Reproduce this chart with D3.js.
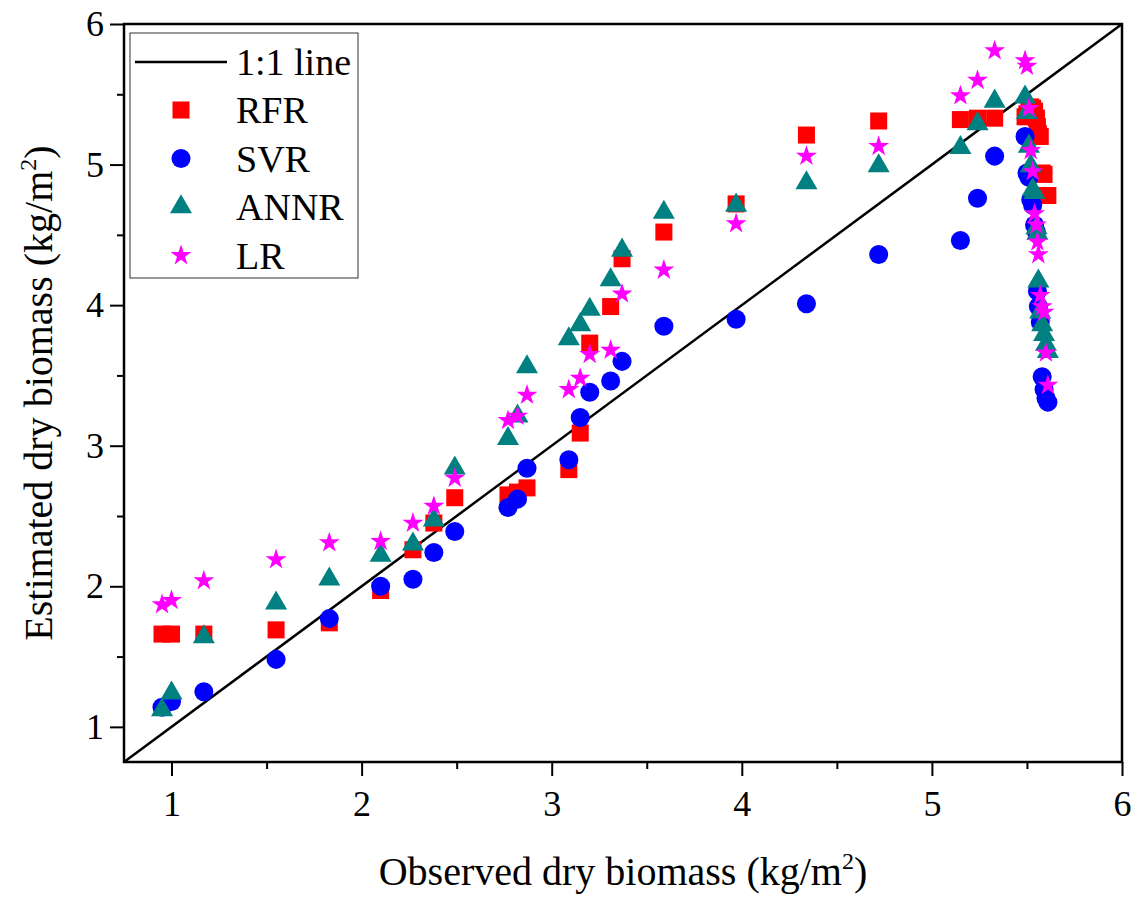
<!DOCTYPE html>
<html>
<head>
<meta charset="utf-8">
<script src="https://cdn.jsdelivr.net/npm/d3@7"></script>
<style>
  body { margin: 0; background: #fff; }
  text { font-family: "Liberation Serif", "Times New Roman", serif; fill: #000; }
</style>
</head>
<body>
<div id="chart"></div>
<script>
const svgWidth = 1141
const svgHeight = 901

// observed dry biomass (kg/m2), shared by all four models
const observed = [0.95, 1.00, 1.17, 1.55, 1.83, 2.10, 2.27, 2.38, 2.49, 2.77, 2.82, 2.87,
	3.09, 3.15, 3.20, 3.31, 3.37, 3.59, 3.97, 4.34, 4.72, 5.15, 5.24, 5.33,
	5.49, 5.50, 5.51, 5.52, 5.53, 5.54, 5.55, 5.555, 5.56, 5.57, 5.58, 5.59, 5.60, 5.61]

const rfr = [1.66, 1.66, 1.66, 1.69, 1.74, 1.97, 2.26, 2.45, 2.63, 2.65, 2.67, 2.70,
	2.83, 3.09, 3.73, 3.99, 4.33, 4.52, 4.72, 5.21, 5.31, 5.32, 5.33, 5.33,
	5.34, 5.36, 5.40, 5.41, 5.40, 5.38, 5.33, 5.27, 5.22, 5.20, 4.94, 4.93, 4.78, 4.78]
const svr = [1.14, 1.18, 1.25, 1.48, 1.77, 2.00, 2.05, 2.24, 2.39, 2.56, 2.62, 2.84,
	2.90, 3.20, 3.38, 3.46, 3.60, 3.85, 3.90, 4.01, 4.36, 4.46, 4.76, 5.06,
	5.20, 4.94, 4.91, 4.75, 4.71, 4.57, 4.52, 4.10, 3.99, 3.88, 3.49, 3.40, 3.34, 3.31]
const annr = [1.12, 1.24, 1.64, 1.88, 2.05, 2.22, 2.30, 2.47, 2.84, 3.05, 3.21, 3.56,
	3.76, 3.86, 3.97, 4.18, 4.39, 4.66, 4.71, 4.87, 4.99, 5.12, 5.29, 5.45,
	5.48, 5.37, 5.13, 4.99, 4.82, 4.80, 4.55, 4.51, 4.17, 3.95, 3.86, 3.79, 3.72, 3.67]
const lr = [1.87, 1.90, 2.04, 2.19, 2.31, 2.32, 2.45, 2.57, 2.77, 3.18, 3.21, 3.36,
	3.40, 3.48, 3.65, 3.68, 4.08, 4.25, 4.58, 5.06, 5.13, 5.49, 5.60, 5.81,
	5.74, 5.70, 5.40, 5.10, 4.95, 4.65, 4.57, 4.45, 4.36, 4.07, 3.99, 3.95, 3.66, 3.43]

const majorTicks = [1, 2, 3, 4, 5, 6]
const minorTicks = [1.5, 2.5, 3.5, 4.5, 5.5]

const series = [
	{ name: "RFR", values: rfr, color: "#ff0000", symbol: d3.symbolSquare, size: 290 },
	{ name: "SVR", values: svr, color: "#0000ff", symbol: d3.symbolCircle, size: 285 },
	{ name: "ANNR", values: annr, color: "#008080", symbol: d3.symbolTriangle, size: 210 },
	{ name: "LR", values: lr, color: "#ff00ff", symbol: d3.symbolStar, size: 136 }
]

const margin = { left: 124, right: 19, top: 24, bottom: 139 }
const width = svgWidth - margin.left - margin.right
const height = svgHeight - margin.top - margin.bottom

const x = d3.scaleLinear().domain([0.75, 6]).range([0, width])
const y = d3.scaleLinear().domain([0.75, 6]).range([height, 0])

let svg = d3.select("#chart")
	.append("svg")
	.attr("width", svgWidth)
	.attr("height", svgHeight)

let g = svg.append("g")
	.attr("transform", `translate(${margin.left},${margin.top})`)

// axes: major + minor ticks, outward
function styleAxis(sel) {
	sel.attr("font-family", null).attr("font-size", null)
	sel.select(".domain").remove()
	sel.selectAll("line").attr("stroke", "#000").attr("stroke-width", 2)
	sel.selectAll("text").style("font-size", "36px")
}

g.append("g")
	.attr("transform", `translate(0,${height})`)
	.call(d3.axisBottom(x).tickValues(majorTicks).tickSize(14).tickPadding(14).tickFormat(d3.format("d")))
	.call(styleAxis)
g.append("g")
	.attr("transform", `translate(0,${height})`)
	.call(d3.axisBottom(x).tickValues(minorTicks).tickSize(7).tickFormat(""))
	.call(styleAxis)
g.append("g")
	.call(d3.axisLeft(y).tickValues(majorTicks).tickSize(14).tickPadding(6).tickFormat(d3.format("d")))
	.call(styleAxis)
g.append("g")
	.call(d3.axisLeft(y).tickValues(minorTicks).tickSize(7).tickFormat(""))
	.call(styleAxis)

// 1:1 line
g.append("line")
	.attr("x1", x(0.75)).attr("y1", y(0.75))
	.attr("x2", x(6)).attr("y2", y(6))
	.attr("stroke", "#000").attr("stroke-width", 2.5)

// points
for (const s of series) {
	g.append("g")
		.selectAll("path")
		.data(s.values)
		.enter().append("path")
		.attr("d", d3.symbol().type(s.symbol).size(s.size))
		.attr("transform", (d, i) => `translate(${x(observed[i])},${y(d)})`)
		.attr("fill", s.color)
}

// frame
g.append("rect")
	.attr("width", width).attr("height", height)
	.attr("fill", "none").attr("stroke", "#000").attr("stroke-width", 2.5)

// legend
const legend = g.append("g").attr("transform", "translate(6,9)")
legend.append("rect")
	.attr("width", 228).attr("height", 245)
	.attr("fill", "#fff").attr("stroke", "#333").attr("stroke-width", 1)
legend.append("line")
	.attr("x1", 5).attr("x2", 97).attr("y1", 29).attr("y2", 29)
	.attr("stroke", "#000").attr("stroke-width", 2.5)
legend.append("text")
	.attr("x", 106).attr("y", 29).attr("dy", "0.35em")
	.style("font-size", "38px")
	.text("1:1 line")
series.forEach((s, i) => {
	const row = legend.append("g").attr("transform", `translate(0,${77 + i * 48.5})`)
	row.append("path")
		.attr("d", d3.symbol().type(s.symbol).size(s.size))
		.attr("transform", "translate(51,0)")
		.attr("fill", s.color)
	row.append("text")
		.attr("x", 106).attr("dy", "0.35em")
		.style("font-size", "38px")
		.text(s.name)
})

// axis titles
const xTitle = svg.append("text")
	.attr("x", margin.left + width / 2)
	.attr("y", 885)
	.attr("text-anchor", "middle")
	.style("font-size", "40px")
xTitle.append("tspan").text("Observed dry biomass (kg/m")
xTitle.append("tspan").attr("dy", "-16").style("font-size", "24px").text("2")
xTitle.append("tspan").attr("dy", "16").text(")")

const yTitle = svg.append("text")
	.attr("transform", `translate(52,${margin.top + height / 2}) rotate(-90)`)
	.attr("text-anchor", "middle")
	.style("font-size", "40px")
yTitle.append("tspan").text("Estimated dry biomass (kg/m")
yTitle.append("tspan").attr("dy", "-16").style("font-size", "24px").text("2")
yTitle.append("tspan").attr("dy", "16").text(")")
</script>
</body>
</html>
